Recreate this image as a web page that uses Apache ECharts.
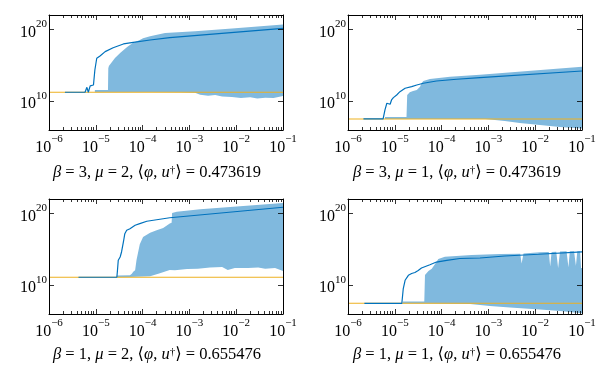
<!DOCTYPE html>
<html>
<head>
<meta charset="utf-8">
<script src="https://cdn.jsdelivr.net/npm/echarts@6/dist/echarts.min.js"></script>
<style>
html, body { margin: 0; padding: 0; background: #fff; }
#main { width: 610px; height: 375px; }
</style>
</head>
<body>
<div id="main"></div>
<script>
// all values are log10 exponents: [log10(x), log10(y)]
// panel 1: beta=3, mu=2
var blue1 = [[-5.66,11.25],[-5.23,11.25],[-5.19,11.94],[-5.16,11.25],[-5.12,12.13],[-5.09,11.94],[-5.05,12.26],[-5.02,14.35],[-4.98,15.98],[-4.91,16.30],[-4.80,16.90],[-4.63,17.45],[-4.41,17.97],[-4.20,18.20],[-3.84,18.52],[-3.42,18.84],[-1.0,20.15]];
var hi1 = [[-5.02,11.55],[-4.74,11.55],[-4.733,14.6],[-4.72,14.9],[-4.59,16.02],[-4.48,16.72],[-4.33,17.55],[-4.21,18.11],[-4.06,18.52],[-3.99,18.76],[-3.84,19.05],[-3.52,19.50],[-2.88,19.75],[-2.09,20.12],[-1.0,20.68]];
var lo1 = [[-5.02,11.25],[-3.84,11.3],[-3.2,11.25],[-2.88,11.2],[-2.77,10.9],[-2.6,10.75],[-2.45,10.87],[-2.3,10.65],[-2.09,10.6],[-1.9,10.45],[-1.7,10.55],[-1.55,10.4],[-1.38,10.5],[-1.2,10.45],[-1.0,10.73]];
var orange1 = 11.25;

// panel 2: beta=3, mu=1
var blue2 = [[-5.67,7.54],[-5.25,7.54],[-5.21,8.79],[-5.17,9.72],[-5.14,9.94],[-5.10,9.58],[-5.07,10.18],[-5.03,10.50],[-4.96,10.87],[-4.89,11.33],[-4.78,11.81],[-4.64,12.03],[-4.53,12.26],[-4.39,12.50],[-4.11,12.82],[-3.68,13.06],[-3.18,13.28],[-1.0,14.21]];
var hi2 = [[-5.21,7.8],[-4.75,7.8],[-4.735,10.87],[-4.68,11.25],[-4.61,11.43],[-4.53,11.57],[-4.46,12.03],[-4.43,12.50],[-4.39,12.82],[-4.25,13.10],[-3.82,13.42],[-3.18,13.70],[-1.0,14.81]];
var lo2 = [[-5.21,7.54],[-3.07,7.54],[-2.65,7.26],[-2.33,6.98],[-1.90,6.70],[-1.47,6.42],[-1.0,6.21]];
var orange2 = 7.54;

// panel 3: beta=1, mu=2
var blue3 = [[-5.37,11.11],[-4.55,11.11],[-4.54,11.85],[-4.52,13.47],[-4.48,13.93],[-4.45,14.63],[-4.41,16.02],[-4.38,17.17],[-4.34,17.65],[-4.27,17.87],[-4.16,18.34],[-4.06,18.57],[-3.91,18.90],[-3.63,19.18],[-3.42,19.39],[-1.0,20.85]];
var hi3 = [[-4.55,11.35],[-4.27,11.4],[-4.23,11.61],[-4.20,11.89],[-4.16,12.08],[-4.13,13.52],[-4.06,15.70],[-3.99,16.72],[-3.84,17.31],[-3.70,17.65],[-3.56,17.97],[-3.42,18.59],[-3.38,18.7],[-3.37,20.05],[-3.27,20.23],[-2.77,20.57],[-2.06,20.93],[-1.0,21.44]];
var lo3 = [[-4.55,11.11],[-4.27,11.15],[-3.84,11.25],[-3.63,11.67],[-3.42,12.13],[-3.31,12.08],[-3.05,12.25],[-2.82,12.31],[-2.56,12.47],[-2.30,12.54],[-2.18,12.13],[-2.03,12.40],[-1.75,12.40],[-1.53,12.47],[-1.38,12.31],[-1.17,12.40],[-1.0,11.99]];
var orange3 = 11.11;

// panel 4: beta=1, mu=1
var blue4 = [[-5.65,7.47],[-4.85,7.47],[-4.82,9.48],[-4.78,10.69],[-4.71,11.38],[-4.64,11.63],[-4.61,11.50],[-4.57,11.78],[-4.50,12.06],[-4.43,12.40],[-4.25,12.86],[-4.11,13.23],[-3.89,13.47],[-3.61,13.72],[-3.18,13.79],[-2.65,14.07],[-1.93,14.31],[-1.0,14.63]];
var hi4 = [[-4.83,7.75],[-4.37,7.75],[-4.355,11.43],[-4.28,11.99],[-4.21,12.31],[-4.14,12.96],[-4.07,13.66],[-3.93,13.97],[-3.36,14.21],[-2.75,14.35],[-2.32,14.40],[-2.29,13.03],[-2.25,14.43],[-1.90,14.60],[-1.71,14.63],[-1.68,12.6],[-1.65,14.63],[-1.55,14.66],[-1.51,12.40],[-1.47,14.70],[-1.33,14.72],[-1.29,12.5],[-1.26,14.72],[-1.17,14.74],[-1.13,12.7],[-1.10,14.74],[-1.04,14.74],[-1.02,12.4],[-1.0,12.4]];
var lo4 = [[-4.83,7.47],[-4.355,7.47],[-3.39,7.40],[-2.97,7.12],[-2.54,6.91],[-1.90,6.63],[-1.47,6.42],[-1.0,6.1]];
var orange4 = 7.49;

var titles = [
  'β = 3, μ = 2, ⟨φ, u†⟩ = 0.473619',
  'β = 3, μ = 1, ⟨φ, u†⟩ = 0.473619',
  'β = 1, μ = 2, ⟨φ, u†⟩ = 0.655476',
  'β = 1, μ = 1, ⟨φ, u†⟩ = 0.655476'
];
var xMajor = [1e-6, 1e-5, 1e-4, 1e-3, 1e-2, 1e-1];
var yMajor = [1e10, 1e20];

var FONT = '"Liberation Serif", "DejaVu Serif", serif';
var BLUE = '#0072bd', ORANGE = '#edb120', FILL = '#80b9de';

var xMinor = [];
for (var n = -6; n < -1; n++) {
  for (var k = 2; k < 10; k++) xMinor.push(k * Math.pow(10, n));
}

var panels = [
  {blue: blue1, hi: hi1, lo: lo1, orange: orange1, left: 49, top: 15, tx: 157, ty: 173},
  {blue: blue2, hi: hi2, lo: lo2, orange: orange2, left: 348, top: 15, tx: 457, ty: 173},
  {blue: blue3, hi: hi3, lo: lo3, orange: orange3, left: 49, top: 199, tx: 157, ty: 355},
  {blue: blue4, hi: hi4, lo: lo4, orange: orange4, left: 348, top: 199, tx: 457, ty: 355}
];

function toVal(p) { return [Math.pow(10, p[0]), Math.pow(10, p[1])]; }

function powLabel(v) {
  var e = Math.round(Math.log10(v));
  return '{b|10}{s|' + (e < 0 ? '\u2212' + (-e) : e) + '}';
}
var powRich = {
  b: {fontFamily: FONT, fontSize: 16, color: '#000', verticalAlign: 'bottom', lineHeight: 22},
  s: {fontFamily: FONT, fontSize: 11, color: '#000', verticalAlign: 'top', lineHeight: 10}
};

function xAxis(g, pos, ticks, len, line, label) {
  return {
    type: 'log', gridIndex: g, position: pos, min: 1e-6, max: 1e-1, z: 10, silent: true,
    splitLine: {show: false},
    axisLine: {show: line, onZero: false, lineStyle: {color: '#000', width: 1}},
    axisTick: {inside: true, length: len, customValues: ticks, lineStyle: {color: '#000', width: 0.8}},
    axisLabel: label ? {customValues: xMajor, formatter: powLabel, rich: powRich, margin: 4} : {show: false}
  };
}
function yAxis(g, pos, label) {
  return {
    type: 'log', gridIndex: g, position: pos, min: 1e6, max: 1e22, z: 10, silent: true,
    splitLine: {show: false},
    axisLine: {show: true, onZero: false, lineStyle: {color: '#000', width: 1}},
    axisTick: {inside: true, length: 5, customValues: yMajor, lineStyle: {color: '#000', width: 0.8}},
    axisLabel: label ? {customValues: yMajor, formatter: powLabel, rich: powRich, margin: 2} : {show: false}
  };
}

var grid = [], xAxes = [], yAxes = [], series = [], graphic = [];
panels.forEach(function (p, g) {
  grid.push({left: p.left, top: p.top, width: 234, height: 115, outerBoundsMode: 'none'});
  xAxes.push(xAxis(g, 'bottom', xMajor, 5, true, true));
  xAxes.push(xAxis(g, 'bottom', xMinor, 3, false, false));
  xAxes.push(xAxis(g, 'top', xMajor, 5, true, false));
  xAxes.push(xAxis(g, 'top', xMinor, 3, false, false));
  yAxes.push(yAxis(g, 'left', true));
  yAxes.push(yAxis(g, 'right', false));

  var hi = p.hi, lo = p.lo;
  series.push({
    type: 'custom', xAxisIndex: g * 4, yAxisIndex: g * 2, z: 2, silent: true,
    data: [[1e-3, 1e10]],
    renderItem: function (params, api) {
      var poly = hi.concat(lo.slice().reverse()).map(function (q) { return api.coord(toVal(q)); });
      return {type: 'polygon', shape: {points: poly}, style: {fill: FILL}};
    }
  });
  series.push({
    type: 'line', xAxisIndex: g * 4, yAxisIndex: g * 2, z: 3, silent: true,
    symbol: 'none', lineStyle: {color: ORANGE, width: 1.1},
    data: [toVal([-6, p.orange]), toVal([-1, p.orange])]
  });
  series.push({
    type: 'line', xAxisIndex: g * 4, yAxisIndex: g * 2, z: 4, silent: true,
    symbol: 'none', lineStyle: {color: BLUE, width: 1.2},
    data: p.blue.map(toVal)
  });

  var txt = titles[g].replace(/([βμφ])/g, '{i|$1}').replace('u†', '{i|u}{s|†}');
  graphic.push({
    type: 'text', x: p.tx, y: p.ty, silent: true,
    style: {
      text: txt, fontFamily: FONT, fontSize: 16.5, fill: '#000',
      align: 'center', verticalAlign: 'middle',
      rich: {
        i: {fontFamily: FONT, fontSize: 16.5, fontStyle: 'italic', fill: '#000'},
        s: {fontFamily: FONT, fontSize: 11, fill: '#000', verticalAlign: 'top', lineHeight: 10}
      }
    }
  });
});

var chart = echarts.init(document.getElementById('main'));
chart.setOption({
  animation: false,
  backgroundColor: '#fff',
  grid: grid,
  xAxis: xAxes,
  yAxis: yAxes,
  series: series,
  graphic: graphic
});
</script>
</body>
</html>
